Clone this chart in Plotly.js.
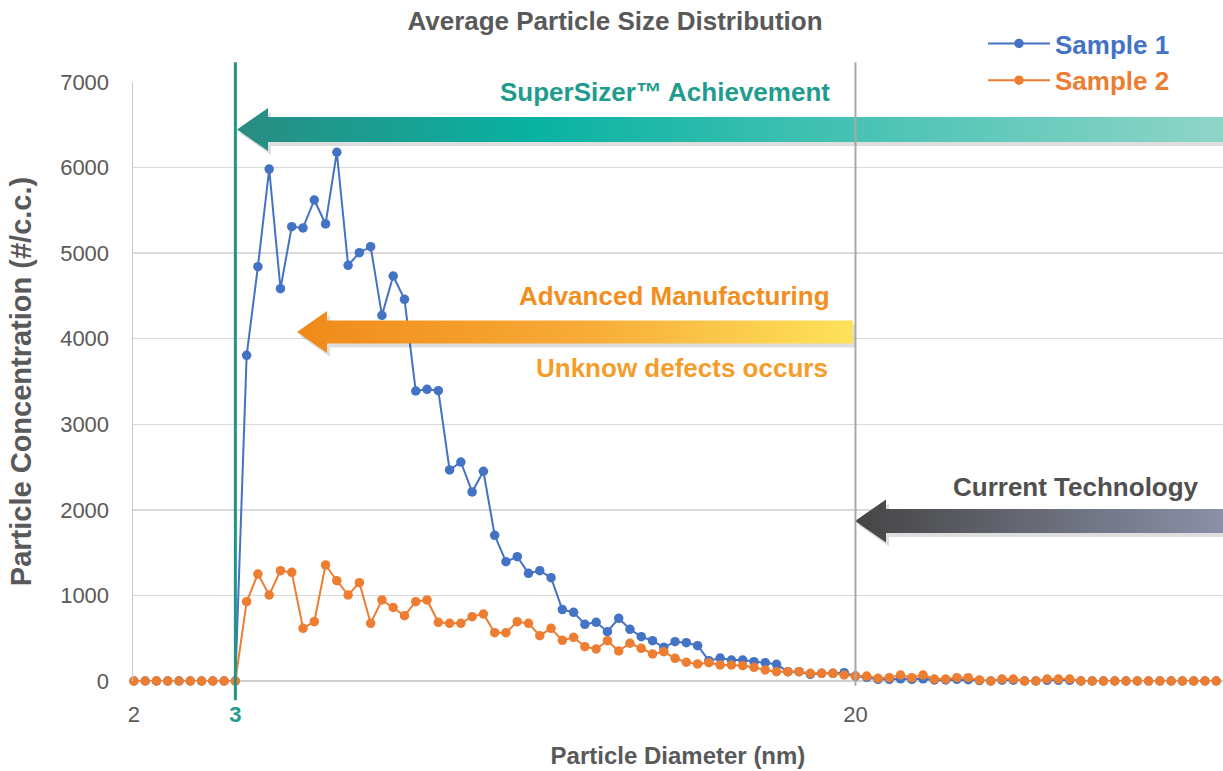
<!DOCTYPE html>
<html>
<head>
<meta charset="utf-8">
<script src="https://cdn.plot.ly/plotly-3.0.1.min.js"></script>
<style>
html,body{margin:0;padding:0;background:#fff;}
#chart{width:1223px;height:771px;}
</style>
</head>
<body>
<div id="chart"></div>
<script>
// ---- data ----
const seriesNames = ['Sample 1', 'Sample 2'];
const sample1 = [
  0,0,0,0,0,0,0,0,0,0,
  3806,4842,5983,4585,5309,5294,5621,5341,6179,4858,
  5005,5075,4273,4733,4461,3389,3409,3393,2466,2559,
  2209,2451,1703,1394,1453,1259,1289,1207,835,803,
  663,686,576,733,604,518,471,394,459,448,
  413,237,268,245,245,226,214,195,109,109,
  78,90,90,97,58,43,
  20,20,25,20,25,12,12,20,15,5,0,10,10,0,0,8,8,8,
  0,0,0,0,0,0,0,0,0,0,0,0,0
];
const sample2 = [
  0,0,0,0,0,0,0,0,0,0,
  927,1250,1005,1289,1270,616,693,1356,1172,1005,
  1149,674,947,859,763,927,947,686,674,674,
  752,783,565,565,693,674,530,616,475,511,
  401,374,471,351,441,382,316,343,265,219,
  199,214,187,187,179,160,129,109,109,109,
  90,90,90,70,58,58,
  32,39,70,39,70,23,23,39,39,12,0,23,23,0,0,23,23,23,
  0,0,0,0,0,0,0,0,0,0,0,0,0
];
const tickPositions = [0, 9, 64];          // bin positions carrying a label
const tickLabels = ['2', '3', '20'];       // particle diameter (nm)
const yTicks = [0,1000,2000,3000,4000,5000,6000,7000];

const binIndex = sample1.map((_, i) => i);

const C_BLUE = '#4472C4', C_ORANGE = '#ED7D31', C_TEAL = '#1f9a8b', C_GRAY = '#595959';
const FONT = 'Arial, "Liberation Sans", Helvetica, sans-serif';

// ---- decorative arrows in pixel space (overlay axes x2/y2) ----
function arrow(tipX, tipY, headBackX, headHalf, bodyHalf, endX) {
  return {
    x: [tipX, headBackX, headBackX, endX, endX, headBackX, headBackX, tipX],
    y: [tipY, tipY - headHalf, tipY - bodyHalf, tipY - bodyHalf, tipY + bodyHalf, tipY + bodyHalf, tipY + headHalf, tipY]
  };
}
function arrowTraces(a, scale) {
  const sh = {
    x: a.x.map(v => Math.min(v + 3, 1223)), y: a.y.map(v => v + 4),
    type: 'scatter', mode: 'lines', fill: 'toself', fillcolor: 'rgba(0,0,0,0.13)',
    line: {width: 0, color: 'rgba(0,0,0,0)'}, xaxis: 'x2', yaxis: 'y2',
    hoverinfo: 'skip', showlegend: false
  };
  const main = {
    x: a.x, y: a.y, type: 'scatter', mode: 'lines', fill: 'toself',
    fillgradient: {type: 'horizontal', colorscale: scale},
    line: {width: 0, color: 'rgba(0,0,0,0)'}, xaxis: 'x2', yaxis: 'y2',
    hoverinfo: 'skip', showlegend: false
  };
  return [sh, main];
}
const tealArrow = arrow(237, 129.5, 268, 21.5, 12.5, 1223);
const orangeArrow = arrow(297, 332, 327, 21, 11.5, 853);
const grayArrow = arrow(855, 521, 886, 21.5, 12, 1223);

const legendName = (n, c) => '<span style="color:' + c + '"><b>' + n + '</b></span>';

const traces = [
  {
    x: binIndex, y: sample1, name: legendName(seriesNames[0], C_BLUE), type: 'scatter', mode: 'lines+markers',
    line: {color: C_BLUE, width: 2}, marker: {color: C_BLUE, size: 9.5}, cliponaxis: false
  },
  {
    x: binIndex, y: sample2, name: legendName(seriesNames[1], C_ORANGE), type: 'scatter', mode: 'lines+markers',
    line: {color: C_ORANGE, width: 2}, marker: {color: C_ORANGE, size: 9.5}, cliponaxis: false
  },
  ...arrowTraces(tealArrow, [[0, '#2a8c82'], [0.3, '#08b2a2'], [1, '#8fd5c7']]),
  ...arrowTraces(orangeArrow, [[0, '#f08a1a'], [0.5, '#f7aa36'], [1, '#fee25c']]),
  ...arrowTraces(grayArrow, [[0, '#454545'], [1, '#8b90a8']])
];

const tickText = tickLabels.map((t, i) => i === 1 ? '<b><span style="color:' + C_TEAL + '">' + t + '</span></b>' : t);

const layout = {
  width: 1223, height: 771,
  margin: {l: 133, r: 0, t: 82, b: 90},
  paper_bgcolor: '#fff', plot_bgcolor: '#fff',
  font: {family: FONT, color: C_GRAY},
  title: {
    text: '<b>Average Particle Size Distribution</b>',
    font: {size: 26, color: C_GRAY, family: FONT},
    x: 615 / 1223, xref: 'container', xanchor: 'center',
    y: 1 - 21 / 771, yref: 'container', yanchor: 'middle'
  },
  showlegend: true,
  legend: {
    x: (983 - 133) / 1090, xanchor: 'left', y: (681 - 20) / 599, yanchor: 'top',
    itemwidth: 62,
    bgcolor: 'rgba(0,0,0,0)', font: {size: 26, family: FONT}, tracegroupgap: 0
  },
  xaxis: {
    range: [-0.08, 96.6], tickmode: 'array', tickvals: tickPositions, ticktext: tickText,
    showgrid: false, zeroline: false, showline: false,
    ticks: 'outside', ticklen: 14, tickcolor: 'rgba(0,0,0,0)',
    tickfont: {size: 22, color: C_GRAY, family: FONT},
    title: {text: '<b>Particle Diameter (nm)</b>', font: {size: 24, color: C_GRAY, family: FONT}, standoff: 20},
    fixedrange: true
  },
  yaxis: {
    range: [0, 7000], tickvals: yTicks, ticktext: yTicks.map(String),
    showgrid: true, gridcolor: '#d9d9d9', gridwidth: 1.5,
    zeroline: true, zerolinecolor: '#d0d0d0', zerolinewidth: 1.5,
    showline: true, linecolor: '#c8c8c8', linewidth: 1.5,
    ticks: 'outside', ticklen: 18, tickcolor: 'rgba(0,0,0,0)',
    tickfont: {size: 22, color: C_GRAY, family: FONT},
    title: {text: '<b>Particle Concentration (#/c.c.)</b>', font: {size: 29, color: C_GRAY, family: FONT}, standoff: 20},
    fixedrange: true
  },
  xaxis2: {overlaying: 'x', anchor: 'y2', range: [133, 1223], visible: false, fixedrange: true},
  yaxis2: {overlaying: 'y', anchor: 'x2', range: [681, 82], visible: false, fixedrange: true},
  shapes: [
    {type: 'line', xref: 'x', yref: 'paper', x0: tickPositions[1], x1: tickPositions[1], y0: -0.032, y1: 1.033,
     line: {color: '#1e9585', width: 3}, layer: 'above'},
    {type: 'line', xref: 'x', yref: 'paper', x0: tickPositions[2], x1: tickPositions[2], y0: -0.008, y1: 1.033,
     line: {color: '#a9a9a9', width: 2}, layer: 'above'}
  ],
  annotations: [
    {xref: 'x2', yref: 'y2', x: 832, y: 92, xanchor: 'right', yanchor: 'middle', showarrow: false,
     text: '<b>SuperSizer™ Achievement</b>', font: {size: 26, color: '#1f9c8d', family: FONT}},
    {xref: 'x2', yref: 'y2', x: 832, y: 296, xanchor: 'right', yanchor: 'middle', showarrow: false,
     text: '<b>Advanced Manufacturing</b>', font: {size: 26, color: '#f28e1e', family: FONT}},
    {xref: 'x2', yref: 'y2', x: 830, y: 368, xanchor: 'right', yanchor: 'middle', showarrow: false,
     text: '<b>Unknow defects occurs</b>', font: {size: 26, color: '#f59d2a', family: FONT}},
    {xref: 'x2', yref: 'y2', x: 1201, y: 487, xanchor: 'right', yanchor: 'middle', showarrow: false,
     text: '<b>Current Technology</b>', font: {size: 26, color: '#505050', family: FONT}}
  ]
};

Plotly.newPlot('chart', traces, layout, {displayModeBar: false, staticPlot: true});
</script>
</body>
</html>
